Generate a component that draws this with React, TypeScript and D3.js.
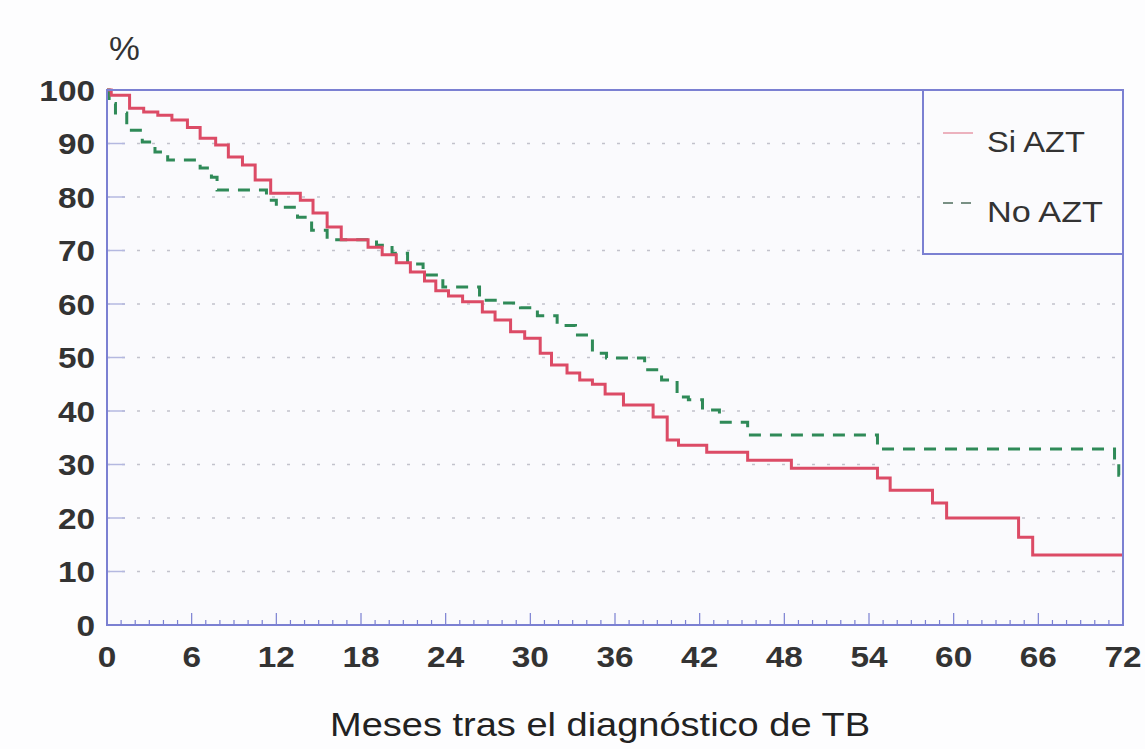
import React from "react";
import * as d3 from "d3";

// Kaplan-Meier steps: [month, % surviving]
const siAZT: [number, number][] = [
  [0, 100], [0.3, 99], [1.6, 96.6], [2.6, 95.9], [3.6, 95.3], [4.6, 94.4], [5.7, 93],
  [6.6, 91], [7.7, 89.7], [8.6, 87.5], [9.6, 86], [10.5, 83.2], [11.6, 80.7],
  [13.7, 79.4], [14.6, 77], [15.6, 74.4], [16.6, 72], [18.5, 70.6], [19.5, 69.2],
  [20.5, 67.7], [21.5, 66], [22.5, 64.3], [23.3, 62.5], [24.2, 61.5], [25.2, 60.4],
  [26.6, 58.5], [27.5, 57], [28.6, 54.8], [29.6, 53.6], [30.7, 50.8], [31.5, 48.6],
  [32.6, 47.1], [33.5, 45.8], [34.4, 45], [35.3, 43.2], [36.6, 41.1], [38.7, 38.9],
  [39.7, 34.6], [40.5, 33.6], [42.5, 32.3], [45.4, 30.8], [48.5, 29.3], [54.6, 27.5],
  [55.5, 25.2], [58.5, 22.8], [59.5, 20], [64.6, 16.4], [65.6, 13.1], [72, 13.1],
];

const noAZT: [number, number][] = [
  [0, 100], [0.15, 97.5], [0.6, 95.7], [1.4, 92.5], [2.5, 90.3], [3.4, 88.4], [4.3, 86.9],
  [6.6, 85.4], [7.4, 83.7], [7.8, 81.3], [11.3, 79.4], [12, 78.1], [13.5, 76.2],
  [14.5, 73.8], [15.6, 72], [19.1, 71], [20.2, 69.5], [21.3, 67.5], [22.4, 65.4],
  [23.8, 63.2], [26.4, 60.7], [27.9, 60.2], [29.3, 59.3], [30.5, 57.8], [31.9, 56],
  [33.2, 54.2], [34.4, 50.8], [35.4, 49.9], [38.1, 47.7], [39.3, 45.8], [40.4, 42.6],
  [41.2, 42.1], [42.2, 40.2], [43.4, 37.9], [45.4, 35.5], [54.6, 32.9], [71.4, 30.3],
  [71.7, 28], [72, 28],
];

const xTicks = [0, 6, 12, 18, 24, 30, 36, 42, 48, 54, 60, 66, 72];
const yTicks = [0, 10, 20, 30, 40, 50, 60, 70, 80, 90, 100];
const legendLabels = ["Si AZT", "No AZT"];
const xTitle = "Meses tras el diagnóstico de TB";

const W = 1145;
const H = 749;
const left = 107, right = 1123, top = 90, bottom = 625;
const axisColor = "#7b80d2";
const red = "#dc4b66";
const green = "#2f8a58";

export default function App() {
  const x = d3.scaleLinear().domain([0, 72]).range([left, right]);
  const y = d3.scaleLinear().domain([0, 100]).range([bottom, top]);
  const line = d3
    .line<[number, number]>()
    .x((d) => x(d[0]))
    .y((d) => y(d[1]))
    .curve(d3.curveStepAfter);

  const minor = d3.range(0, 73, 1);
  const legX = 923, legY = top, legW = right - 923, legH = 164;

  return (
    <div style={{ position: "absolute", left: 0, top: 0 }}>
      <svg width={W} height={H} style={{ display: "block", background: "#fdfdfe" }}
        fontFamily="'Liberation Sans', Arial, sans-serif">
        <rect x={left} y={top} width={right - left} height={bottom - top} fill="#fafafd" />

        {/* grid */}
        {yTicks.filter((t) => t > 0 && t < 100).map((t) => (
          <g key={t}>
            <line x1={left} x2={t >= 70 ? legX : right} y1={y(t)} y2={y(t)}
              stroke="#c2c2cc" strokeWidth={1.5} strokeDasharray="3,12" />
            <line x1={left} x2={left + 18} y1={y(t)} y2={y(t)} stroke="#b4b8e0" strokeWidth={1.5} />
          </g>
        ))}

        {/* minor/major ticks on x axis */}
        {minor.map((m) => (
          <line key={m} x1={x(m)} x2={x(m)} y1={bottom} y2={bottom - (m % 6 === 0 ? 12 : 5)}
            stroke={axisColor} strokeWidth={1.2} />
        ))}

        {/* curves */}
        <path d={line(noAZT) ?? ""} fill="none" stroke={green} strokeWidth={3} strokeDasharray="12,9" />
        <path d={line(siAZT) ?? ""} fill="none" stroke={red} strokeWidth={3} />

        {/* frame */}
        <rect x={left} y={top} width={right - left} height={bottom - top} fill="none"
          stroke={axisColor} strokeWidth={2} />

        {/* legend */}
        <rect x={legX} y={legY} width={legW} height={legH} fill="#fbfbfd" stroke={axisColor} strokeWidth={2} />
        <line x1={943} x2={973} y1={133} y2={133} stroke="#e79aa8" strokeWidth={1.5} />
        <line x1={943} x2={975} y1={203} y2={203} stroke="#4f6e5c" strokeWidth={1.5} strokeDasharray="10,8" />
        <text x={987} y={152} fontSize={30} fill="#333" textLength={98} lengthAdjust="spacingAndGlyphs">
          {legendLabels[0]}
        </text>
        <text x={987} y={222} fontSize={30} fill="#333" textLength={116} lengthAdjust="spacingAndGlyphs">
          {legendLabels[1]}
        </text>

        {/* y tick labels */}
        {yTicks.map((t) => (
          <text key={t} transform={`translate(95,${y(t) + 10.5}) scale(1.15,1)`} textAnchor="end"
            fontSize={29} fontWeight="bold" fill="#333">
            {t}
          </text>
        ))}

        {/* x tick labels */}
        {xTicks.map((t) => (
          <text key={t} transform={`translate(${x(t)},667) scale(1.15,1)`} textAnchor="middle"
            fontSize={29} fontWeight="bold" fill="#333">
            {t}
          </text>
        ))}

        <text transform="translate(109,60) scale(1.05,1)" fontSize={33} fill="#333">%</text>
        <text x={330} y={736} fontSize={34} fill="#222" textLength={540} lengthAdjust="spacingAndGlyphs">
          {xTitle}
        </text>
      </svg>
    </div>
  );
}
